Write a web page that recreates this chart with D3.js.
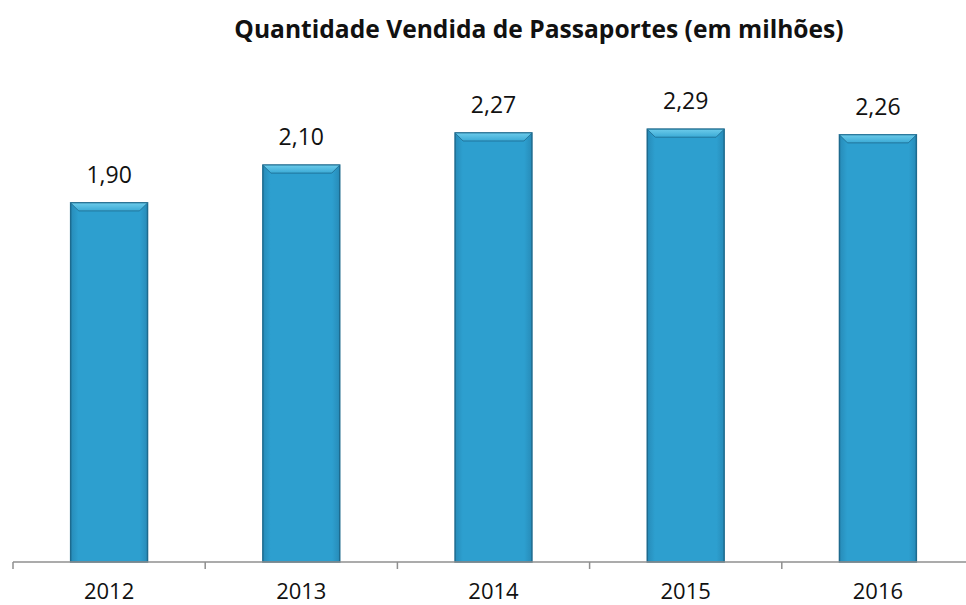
<!DOCTYPE html>
<html>
<head>
<meta charset="utf-8">
<script src="https://cdn.jsdelivr.net/npm/d3@7"></script>
<style>
  html, body { margin: 0; padding: 0; background: #fff; }
  svg { display: block; }
</style>
</head>
<body>
<svg id="chart" width="966" height="605"></svg>
<script>
const years = ["2012", "2013", "2014", "2015", "2016"];
const values = [1.90, 2.10, 2.27, 2.29, 2.26];
const labels = ["1,90", "2,10", "2,27", "2,29", "2,26"];
const title = "Quantidade Vendida de Passaportes (em milhões)";

const W = 966, H = 605;
const svg = d3.select("#chart");
const font = "'Open Sans', Lato, sans-serif";

const x = d3.scaleBand().domain(years).range([13, 974]).paddingInner(0.6).paddingOuter(0.3);
const y = d3.scaleLinear().domain([0, 2.5]).range([562, 89.5]);

const defs = svg.append("defs");
const grad = defs.append("linearGradient").attr("id", "barFill").attr("x1", 0).attr("x2", 1).attr("y1", 0).attr("y2", 0);
grad.append("stop").attr("offset", "0%").attr("stop-color", "#278bb8");
grad.append("stop").attr("offset", "10%").attr("stop-color", "#2d9fcf");
grad.append("stop").attr("offset", "90%").attr("stop-color", "#2d9fcf");
grad.append("stop").attr("offset", "100%").attr("stop-color", "#278bb8");

const topGrad = defs.append("linearGradient").attr("id", "topFill").attr("x1", 0).attr("x2", 0).attr("y1", 0).attr("y2", 1);
topGrad.append("stop").attr("offset", "0%").attr("stop-color", "#6ccbea");
topGrad.append("stop").attr("offset", "100%").attr("stop-color", "#3aaad6");

// Title
svg.append("text")
  .attr("x", 539).attr("y", 38)
  .attr("text-anchor", "middle")
  .attr("font-family", font).attr("font-weight", "bold").attr("font-size", 24.6)
  .attr("fill", "#111")
  .text(title);

// Bars
const bars = svg.append("g").selectAll("g").data(years).join("g");
bars.append("rect")
  .attr("x", d => x(d))
  .attr("y", (d, i) => y(values[i]))
  .attr("width", x.bandwidth())
  .attr("height", (d, i) => y(0) - y(values[i]))
  .attr("fill", "url(#barFill)")
  .attr("stroke", "#1d6a8e")
  .attr("stroke-width", 1.5);

// Top bevel
const bevel = 8;
bars.append("path")
  .attr("d", (d, i) => {
    const x0 = x(d), x1 = x(d) + x.bandwidth(), t = y(values[i]);
    return `M${x0},${t}L${x1},${t}L${x1 - bevel},${t + bevel}L${x0 + bevel},${t + bevel}Z`;
  })
  .attr("fill", "url(#topFill)")
  .attr("stroke", "#1d6a8e")
  .attr("stroke-width", 0.8);

// Value labels
svg.append("g").selectAll("text").data(years).join("text")
  .attr("x", d => x(d) + x.bandwidth() / 2)
  .attr("y", (d, i) => y(values[i]) - 20)
  .attr("text-anchor", "middle")
  .attr("font-family", font).attr("font-size", 23)
  .attr("fill", "#111")
  .text((d, i) => labels[i]);

// Category axis with ticks at band boundaries
const axisG = svg.append("g");
axisG.append("line")
  .attr("x1", 13).attr("x2", W).attr("y1", y(0)).attr("y2", y(0))
  .attr("stroke", "#8f8f8f").attr("stroke-width", 1.5);
const step = x.step();
axisG.selectAll("line.tick").data(years).join("line")
  .attr("class", "tick")
  .attr("x1", d => x(d) + x.bandwidth() / 2 - step / 2)
  .attr("x2", d => x(d) + x.bandwidth() / 2 - step / 2)
  .attr("y1", y(0)).attr("y2", y(0) + 7)
  .attr("stroke", "#8f8f8f").attr("stroke-width", 1.5);
axisG.selectAll("text").data(years).join("text")
  .attr("x", d => x(d) + x.bandwidth() / 2)
  .attr("y", 599)
  .attr("text-anchor", "middle")
  .attr("font-family", font).attr("font-size", 22)
  .attr("fill", "#111")
  .text(d => d);
</script>
</body>
</html>
